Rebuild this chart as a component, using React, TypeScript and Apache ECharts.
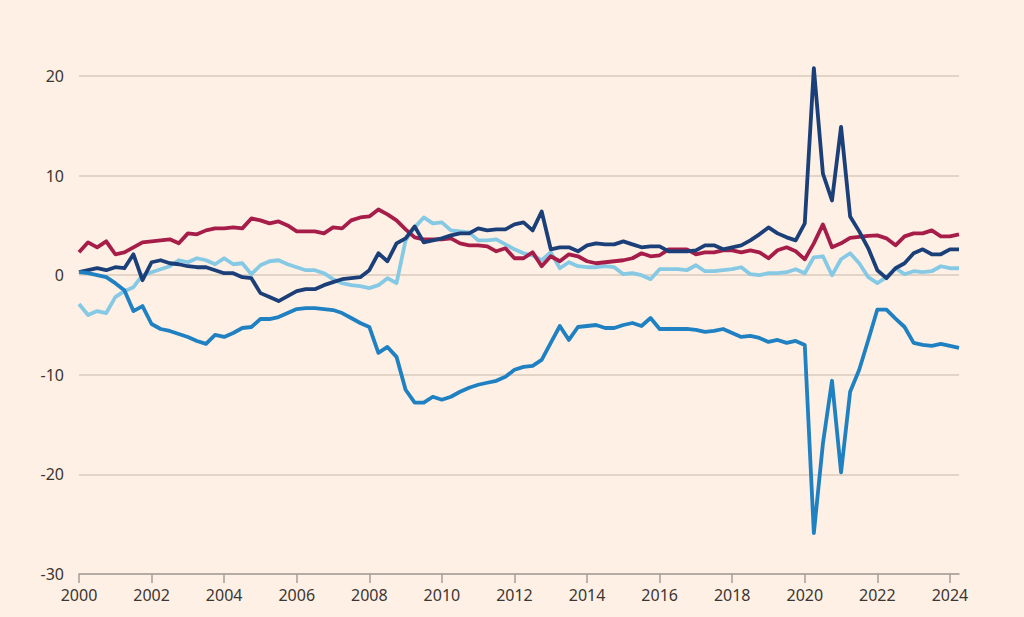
import React, { useEffect, useRef } from "react";
import * as echarts from "echarts";

const yTicks = [-30, -20, -10, 0, 10, 20];
const startYear = 2000;
const quarterCount = 98; // 2000 Q1 .. 2024 Q2
const categories: string[] = [];
for (let i = 0; i < quarterCount; i++) {
  categories.push(`${startYear + Math.floor(i / 4)} Q${(i % 4) + 1}`);
}

const navy = [
  0.3, 0.5, 0.7, 0.5, 0.8, 0.7, 2.1, -0.5, 1.3, 1.5, 1.2, 1.1, 0.9, 0.8, 0.8, 0.5, 0.2, 0.2, -0.2, -0.3,
  -1.8, -2.2, -2.6, -2.1, -1.6, -1.4, -1.4, -1.0, -0.7, -0.4, -0.3, -0.2, 0.5, 2.2, 1.4, 3.2, 3.7, 4.9, 3.3, 3.5,
  3.7, 4.0, 4.2, 4.2, 4.7, 4.5, 4.6, 4.6, 5.1, 5.3, 4.5, 6.4, 2.6, 2.8, 2.8, 2.4, 3.0, 3.2, 3.1, 3.1,
  3.4, 3.1, 2.8, 2.9, 2.9, 2.4, 2.4, 2.4, 2.5, 3.0, 3.0, 2.6, 2.8, 3.0, 3.5, 4.1, 4.8, 4.2, 3.8, 3.5,
  5.2, 20.8, 10.2, 7.5, 14.9, 5.9, 4.4, 2.7, 0.5, -0.3, 0.7, 1.2, 2.2, 2.6, 2.1, 2.1, 2.6, 2.6,
];

const crimson = [
  2.3, 3.3, 2.8, 3.4, 2.1, 2.3, 2.8, 3.3, 3.4, 3.5, 3.6, 3.2, 4.2, 4.1, 4.5, 4.7, 4.7, 4.8, 4.7, 5.7,
  5.5, 5.2, 5.4, 5.0, 4.4, 4.4, 4.4, 4.2, 4.8, 4.7, 5.5, 5.8, 5.9, 6.6, 6.1, 5.5, 4.6, 3.8, 3.6, 3.6,
  3.6, 3.7, 3.2, 3.0, 3.0, 2.9, 2.4, 2.7, 1.7, 1.7, 2.3, 0.9, 1.9, 1.4, 2.1, 1.9, 1.4, 1.2, 1.3, 1.4,
  1.5, 1.7, 2.2, 1.9, 2.0, 2.6, 2.6, 2.6, 2.1, 2.3, 2.3, 2.5, 2.5, 2.3, 2.5, 2.3, 1.7, 2.5, 2.8, 2.4,
  1.6, 3.2, 5.1, 2.8, 3.2, 3.75, 3.85, 3.95, 4.0, 3.7, 3.0, 3.9, 4.2, 4.2, 4.5, 3.9, 3.9, 4.1,
];

const lightBlue = [
  -2.9, -4.0, -3.6, -3.8, -2.2, -1.6, -1.2, 0.0, 0.3, 0.6, 0.9, 1.5, 1.3, 1.7, 1.5, 1.1, 1.7, 1.1, 1.2, 0.1,
  1.0, 1.4, 1.5, 1.1, 0.8, 0.5, 0.5, 0.2, -0.4, -0.8, -1.0, -1.1, -1.3, -1.0, -0.3, -0.8, 3.5, 4.8, 5.8, 5.2,
  5.3, 4.5, 4.4, 4.3, 3.5, 3.5, 3.6, 3.1, 2.6, 2.2, 2.0, 1.5, 2.3, 0.7, 1.3, 0.9, 0.8, 0.8, 0.9, 0.8,
  0.1, 0.2, 0.0, -0.4, 0.6, 0.6, 0.6, 0.5, 1.0, 0.4, 0.4, 0.5, 0.6, 0.8, 0.1, 0.0, 0.2, 0.2, 0.3, 0.6,
  0.2, 1.8, 1.9, 0.0, 1.6, 2.2, 1.2, -0.2, -0.8, -0.2, 0.7, 0.1, 0.4, 0.3, 0.4, 0.9, 0.7, 0.7,
];

const midBlue = [
  0.3, 0.2, 0.0, -0.2, -0.8, -1.5, -3.6, -3.1, -4.9, -5.4, -5.6, -5.9, -6.2, -6.6, -6.9, -6.0, -6.2, -5.8, -5.3, -5.2,
  -4.4, -4.4, -4.2, -3.8, -3.4, -3.3, -3.3, -3.4, -3.5, -3.8, -4.3, -4.8, -5.2, -7.8, -7.2, -8.2, -11.5, -12.8, -12.8, -12.2,
  -12.5, -12.2, -11.7, -11.3, -11.0, -10.8, -10.6, -10.2, -9.5, -9.2, -9.1, -8.5, -6.8, -5.1, -6.5, -5.2, -5.1, -5.0, -5.3, -5.3,
  -5.0, -4.8, -5.1, -4.3, -5.4, -5.4, -5.4, -5.4, -5.5, -5.7, -5.6, -5.4, -5.8, -6.2, -6.1, -6.3, -6.7, -6.5, -6.8, -6.6,
  -7.0, -25.9, -16.9, -10.6, -19.8, -11.7, -9.5, -6.5, -3.45, -3.45, -4.35, -5.2, -6.8, -7.0, -7.1, -6.9, -7.1, -7.3,
];

const seriesDefs = [
  { name: "Light blue", data: lightBlue, color: "#86c9e4" },
  { name: "Crimson", data: crimson, color: "#a51d48" },
  { name: "Navy", data: navy, color: "#1b3f78" },
  { name: "Blue", data: midBlue, color: "#1f80c2" },
];

export default function App() {
  const ref = useRef<HTMLDivElement>(null);
  useEffect(() => {
    document.body.style.margin = "0";
    document.body.style.background = "#fef0e4";
    if (!ref.current) return;
    const chart = echarts.init(ref.current, undefined, { renderer: "svg" });
    chart.setOption({
      animation: false,
      backgroundColor: "#fef0e4",
      grid: { left: 79, right: 65, top: 76, bottom: 43, containLabel: false },
      xAxis: {
        type: "category",
        data: categories,
        boundaryGap: false,
        axisLine: { show: true, onZero: false, lineStyle: { color: "#a59e97", width: 1.5 } },
        axisTick: {
          show: true,
          interval: (idx: number) => idx % 8 === 0,
          length: 9,
          lineStyle: { color: "#a59e97", width: 1.5 },
        },
        axisLabel: {
          interval: (idx: number) => idx % 8 === 0,
          formatter: (v: string) => v.slice(0, 4),
          color: "#3b3632",
          fontFamily: "Noto Sans",
          fontSize: 16,
          margin: 13,
        },
        splitLine: { show: false },
      },
      yAxis: {
        type: "value",
        min: yTicks[0],
        max: yTicks[yTicks.length - 1],
        interval: 10,
        axisLine: { show: false },
        axisTick: { show: false },
        axisLabel: {
          color: "#3b3632",
          fontFamily: "Noto Sans",
          fontSize: 16,
          margin: 15,
          verticalAlign: "middle",
        },
        splitLine: { show: true, lineStyle: { color: "#d9cbbd", width: 1.5 } },
      },
      series: seriesDefs.map((s) => ({
        name: s.name,
        type: "line",
        data: s.data,
        symbol: "none",
        clip: false,
        smooth: false,
        lineStyle: { color: s.color, width: 3.8, join: "round" },
      })),
    });
    return () => chart.dispose();
  }, []);
  return <div ref={ref} style={{ width: 1024, height: 617 }} />;
}
